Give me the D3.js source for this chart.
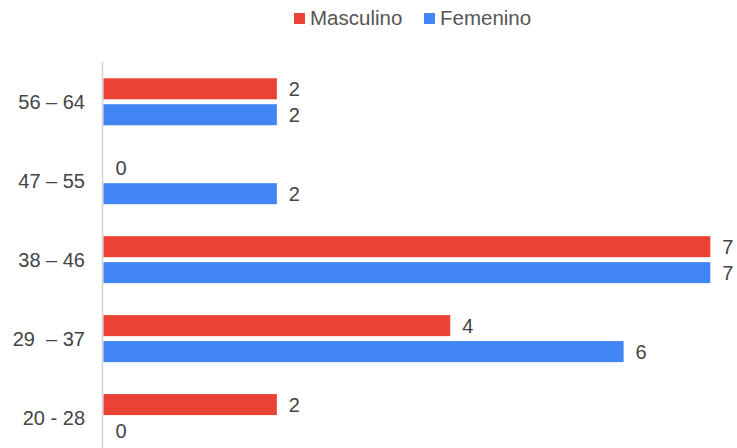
<!DOCTYPE html>
<html>
<head>
<meta charset="utf-8">
<script src="https://cdn.jsdelivr.net/npm/d3@7"></script>
<style>
    body { margin: 0; background: #fff; }
    text { font-family: Arial, "Liberation Sans", sans-serif; }
</style>
</head>
<body>
<div id="chart"></div>
<script>
const categories = ["56 – 64", "47 – 55", "38 – 46", "29  – 37", "20 - 28"]
const seriesNames = ["Masculino", "Femenino"]
const masculino = [2, 0, 7, 4, 2]
const femenino = [2, 2, 7, 6, 0]
const seriesColors = ["#ea4335", "#4285f4"]

class BarChart {

    constructor(parent, width, height) {
        this.parent = parent
        this.width = width
        this.height = height
        this.textColor = "#444"
        this.axisColor = "#d3d3d3"
    }

    init() {
        this.svg = d3.select(this.parent).append("svg")
            .attr("width", this.width)
            .attr("height", this.height)

        this.wrangleData()
        this.makeScales()
        this.drawAxis()
        this.drawBars()
        this.drawLegend()
    }

    wrangleData() {
        this.rows = categories.map((c, i) => ({
            category: c,
            values: [
                {series: seriesNames[0], value: masculino[i], color: seriesColors[0]},
                {series: seriesNames[1], value: femenino[i], color: seriesColors[1]}
            ]
        }))
    }

    makeScales() {
        this.x = d3.scaleLinear()
            .domain([0, 7])
            .range([103.5, 710.3])

        this.y = d3.scaleBand()
            .domain(categories)
            .range([46.3, 473])
            .padding(0.405)

        this.ySub = d3.scaleBand()
            .domain(seriesNames)
            .range([0, this.y.bandwidth()])
            .paddingInner(0.19)
    }

    drawAxis() {
        this.svg.append("line")
            .attr("x1", 102.5).attr("x2", 102.5)
            .attr("y1", 62).attr("y2", this.height)
            .attr("stroke", this.axisColor)
            .attr("stroke-width", 1.5)

        this.svg.append("g")
            .selectAll("text")
            .data(categories)
            .join("text")
                .attr("x", 85)
                .attr("y", d => this.y(d) + this.y.bandwidth() / 2)
                .attr("dy", "0.35em")
                .attr("text-anchor", "end")
                .attr("font-size", 20)
                .attr("fill", this.textColor)
                .style("white-space", "pre")
                .text(d => d)
    }

    drawBars() {
        const groups = this.svg.append("g")
            .selectAll("g")
            .data(this.rows)
            .join("g")
                .attr("transform", d => `translate(0,${this.y(d.category)})`)

        groups.selectAll("rect")
            .data(d => d.values)
            .join("rect")
                .attr("x", this.x(0))
                .attr("y", d => this.ySub(d.series))
                .attr("width", d => this.x(d.value) - this.x(0))
                .attr("height", this.ySub.bandwidth())
                .attr("fill", d => d.color)

        groups.selectAll("text")
            .data(d => d.values)
            .join("text")
                .attr("x", d => this.x(d.value) + 12)
                .attr("y", d => this.ySub(d.series) + this.ySub.bandwidth() / 2)
                .attr("dy", "0.35em")
                .attr("font-size", 20)
                .attr("fill", this.textColor)
                .text(d => d.value)
    }

    drawLegend() {
        const legendX = [294, 424]
        const items = this.svg.append("g")
            .selectAll("g")
            .data(seriesNames)
            .join("g")
                .attr("transform", (d, i) => `translate(${legendX[i]},0)`)

        items.append("rect")
            .attr("x", 0).attr("y", 13)
            .attr("width", 11).attr("height", 11)
            .attr("fill", (d, i) => seriesColors[i])

        items.append("text")
            .attr("x", 16)
            .attr("y", 25)
            .attr("font-size", 20.5)
            .attr("fill", "#555")
            .text(d => d)
    }
}

const chart = new BarChart("#chart", 737, 448)
chart.init()
</script>
</body>
</html>
